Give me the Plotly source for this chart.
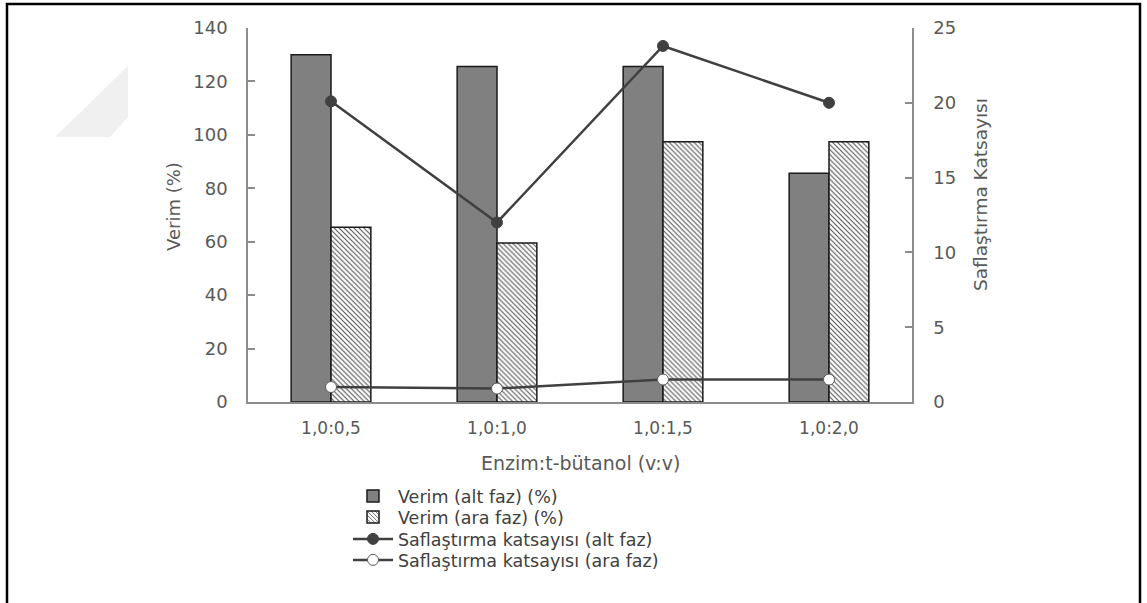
import plotly.graph_objects as go

categories = ["1,0:0,5", "1,0:1,0", "1,0:1,5", "1,0:2,0"]
verim_alt = [130.0, 125.6, 125.6, 85.6]
verim_ara = [65.4, 59.5, 97.4, 97.4]
saf_alt = [20.1, 12.0, 23.8, 20.0]
saf_ara = [1.0, 0.9, 1.5, 1.5]

left_ticks = [0, 20, 40, 60, 80, 100, 120, 140]
right_ticks = [0, 5, 10, 15, 20, 25]

FONT = "DejaVu Sans"
GREY = "#595959"
AX = "#8c8c8c"

W, H = 1147, 603
L, R, T, B = 248, 912, 28, 402  # plot area pixels


def px(x):
    return (x - L) / (R - L)


def py(y):
    return (B - y) / (B - T)


fig = go.Figure()
fig.add_trace(go.Bar(
    x=categories, y=verim_alt, name="Verim (alt faz) (%)", legend="legend",
    marker=dict(color="#808080", line=dict(color="#1a1a1a", width=1.5)),
))
fig.add_trace(go.Bar(
    x=categories, y=verim_ara, name="Verim (ara faz) (%)", legend="legend2",
    marker=dict(color="white", line=dict(color="#1a1a1a", width=1.5),
                pattern=dict(shape="\\", size=3.5, solidity=0.3,
                             fgcolor="#505050", bgcolor="white", fillmode="replace")),
))
fig.add_trace(go.Scatter(
    x=categories, y=saf_alt, name="Saflaştırma katsayısı (alt faz)", yaxis="y2",
    legend="legend3",
    mode="lines+markers", line=dict(color="#404040", width=2.5),
    marker=dict(symbol="circle", size=11, color="#404040", line=dict(color="#404040", width=1)),
))
fig.add_trace(go.Scatter(
    x=categories, y=saf_ara, name="Saflaştırma katsayısı (ara faz)", yaxis="y2",
    legend="legend4",
    mode="lines+markers", line=dict(color="#404040", width=2.5),
    marker=dict(symbol="circle", size=11, color="white", line=dict(color="#595959", width=1)),
))

legend_rows = [496, 517, 539, 560]
legend_common = dict(xanchor="left", yanchor="middle", bgcolor="rgba(0,0,0,0)",
                     font=dict(family=FONT, size=17.5, color="#404040"),
                     itemwidth=40)

fig.update_layout(
    width=W, height=H,
    margin=dict(l=L, r=W - R, t=T, b=H - B, autoexpand=False),
    paper_bgcolor="white", plot_bgcolor="white",
    font=dict(family=FONT, size=18, color=GREY),
    barmode="group", bargap=0.52, bargroupgap=0,
    xaxis=dict(
        range=[-0.5, 3.5], showline=True, linecolor=AX, linewidth=1.5,
        ticks="", showgrid=False, zeroline=False,
        tickfont=dict(family=FONT, size=17, color=GREY), ticklabelstandoff=10,
    ),
    yaxis=dict(
        range=[0, 140], tickvals=left_ticks, showline=True, linecolor=AX, linewidth=1.5,
        ticks="inside", ticklen=7, tickcolor=AX, tickwidth=1.5,
        showgrid=False, zeroline=False,
        tickfont=dict(family=FONT, size=18, color=GREY), ticklabelstandoff=15,
    ),
    yaxis2=dict(
        range=[0, 25], tickvals=right_ticks, overlaying="y", side="right",
        showline=True, linecolor=AX, linewidth=1.5,
        ticks="inside", ticklen=7, tickcolor=AX, tickwidth=1.5,
        showgrid=False, zeroline=False,
        tickfont=dict(family=FONT, size=18, color=GREY), ticklabelstandoff=16,
    ),
    legend=dict(x=px(348), y=py(legend_rows[0]), **legend_common),
    legend2=dict(x=px(348), y=py(legend_rows[1]), **legend_common),
    legend3=dict(x=px(348), y=py(legend_rows[2]), **legend_common),
    legend4=dict(x=px(348), y=py(legend_rows[3]), **legend_common),
    showlegend=True,
)

# axis titles
fig.add_annotation(text="Enzim:t-bütanol (v:v)", xref="paper", yref="paper",
                   x=px(580), y=py(463), xanchor="center", yanchor="middle", showarrow=False,
                   font=dict(family=FONT, size=19, color=GREY))
fig.add_annotation(text="Verim (%)", xref="paper", yref="paper",
                   x=px(173), y=py(207), xanchor="center", yanchor="middle", showarrow=False,
                   textangle=-90, font=dict(family=FONT, size=18, color=GREY))
fig.add_annotation(text="Saflaştırma Katsayısı", xref="paper", yref="paper",
                   x=px(980), y=py(195), xanchor="center", yanchor="middle", showarrow=False,
                   textangle=-90, font=dict(family=FONT, size=18.5, color=GREY))

# outer frame (left, top, right)
fig.add_shape(type="path", xref="paper", yref="paper",
              path=f"M {px(7)} {py(620)} L {px(7)} {py(4)} L {px(1140)} {py(4)} L {px(1140)} {py(620)}",
              line=dict(color="black", width=2.5), layer="above")
# faint watermark
fig.add_shape(type="path", xref="paper", yref="paper",
              path=f"M {px(55)} {py(137)} L {px(128)} {py(66)} L {px(128)} {py(117)} L {px(110)} {py(137)} Z",
              line=dict(width=0), fillcolor="#f0f0f0", layer="below")

fig.write_html("out.html")
